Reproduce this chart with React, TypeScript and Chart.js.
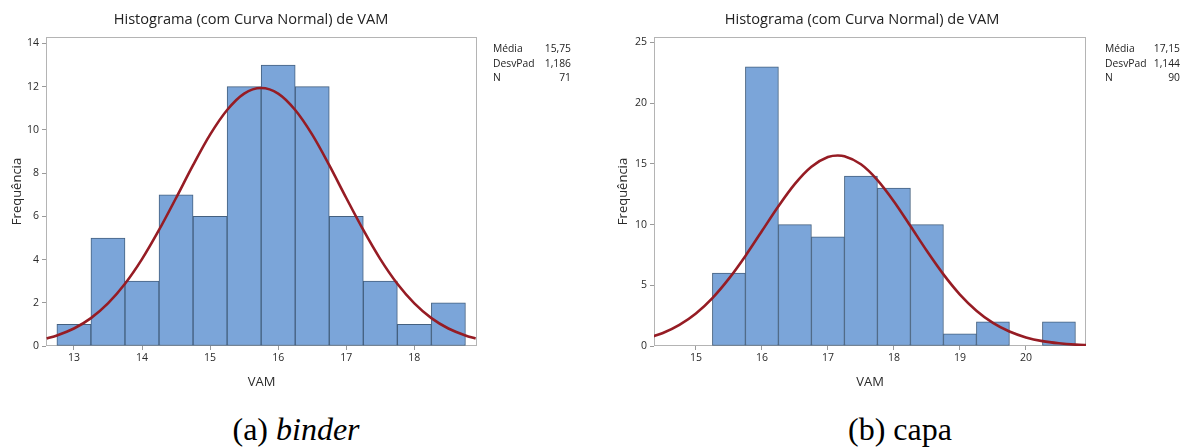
import React, { useEffect, useRef } from "react";
import { Chart, registerables } from "chart.js";
Chart.register(...registerables);

// ---------- data: (a) binder ----------
const binderBinCenters = [13, 13.5, 14, 14.5, 15, 15.5, 16, 16.5, 17, 17.5, 18, 18.5];
const binderCounts = [1, 5, 3, 7, 6, 12, 13, 12, 6, 3, 1, 2];
const binderCurveX = [12.6, 12.75, 13, 13.25, 13.5, 13.75, 14, 14.25, 14.5, 14.75, 15, 15.25, 15.5, 15.75, 16, 16.25, 16.5, 16.75, 17, 17.25, 17.5, 17.75, 18, 18.25, 18.5, 18.75, 18.9];
const binderCurveY = [0.35, 0.49, 0.81, 1.29, 1.97, 2.88, 4.02, 5.37, 6.85, 8.37, 9.78, 10.92, 11.68, 11.94, 11.68, 10.92, 9.78, 8.37, 6.85, 5.37, 4.02, 2.88, 1.97, 1.29, 0.81, 0.49, 0.35];
const binderXTicks = [13, 14, 15, 16, 17, 18];
const binderYTicks = [0, 2, 4, 6, 8, 10, 12, 14];
const binderStats = ["15,75", "1,186", "71"];

// ---------- data: (b) capa ----------
const capaBinCenters = [15.5, 16, 16.5, 17, 17.5, 18, 18.5, 19, 19.5, 20, 20.5];
const capaCounts = [6, 23, 10, 9, 14, 13, 10, 1, 2, 0, 2];
const capaCurveX = [14.35, 14.5, 14.75, 15, 15.25, 15.5, 15.75, 16, 16.25, 16.5, 16.75, 17, 17.15, 17.25, 17.5, 17.75, 18, 18.25, 18.5, 18.75, 19, 19.25, 19.5, 19.75, 20, 20.25, 20.5, 20.75, 20.95];
const capaCurveY = [0.79, 1.07, 1.74, 2.68, 3.95, 5.55, 7.42, 9.47, 11.51, 13.35, 14.76, 15.56, 15.69, 15.63, 14.97, 13.67, 11.91, 9.88, 7.82, 5.9, 4.24, 2.91, 1.9, 1.19, 0.71, 0.4, 0.22, 0.11, 0.06];
const capaXTicks = [15, 16, 17, 18, 19, 20];
const capaYTicks = [0, 5, 10, 15, 20, 25];
const capaStats = ["17,15", "1,144", "90"];

const statLabels = ["Média", "DesvPad", "N"];
const chartTitle = "Histograma (com Curva Normal) de VAM";
const xLabel = "VAM";
const yLabel = "Frequência";

const FONT = "'Open Sans', 'Noto Sans', sans-serif";
const TEXT = "#2a2a2a";

const framePlugin = {
  id: "frame",
  beforeDatasetsDraw(chart: any) {
    const { ctx, chartArea } = chart;
    const { left, top, right, bottom } = chartArea;
    ctx.save();
    ctx.strokeStyle = "#b4b4b4";
    ctx.lineWidth = 1;
    ctx.strokeRect(left + 0.5, top + 0.5, right - left - 1, bottom - top - 1);
    ctx.restore();
  },
};

type HistProps = {
  canvasLeft: number;
  width: number;
  height: number;
  plotLeft: number;
  plotRight: number;
  plotTop: number;
  plotBottom: number;
  xMin: number;
  xMax: number;
  yMax: number;
  centers: number[];
  counts: number[];
  curveX: number[];
  curveY: number[];
  xTicks: number[];
  yTicks: number[];
  yTitlePad: number;
};

function Histogram(p: HistProps) {
  const ref = useRef<HTMLCanvasElement | null>(null);
  useEffect(() => {
    if (!ref.current) return;
    const chart = new Chart(ref.current, {
      type: "bar",
      data: {
        datasets: [
          {
            type: "line",
            data: p.curveX.map((x, i) => ({ x, y: p.curveY[i] })),
            borderColor: "#961c24",
            borderWidth: 2.6,
            pointRadius: 0,
            fill: false,
            cubicInterpolationMode: "monotone",
            order: 0,
          } as any,
          {
            type: "bar",
            data: p.centers.map((x, i) => ({ x, y: p.counts[i] })),
            backgroundColor: "#7ba5d9",
            borderColor: "#44607f",
            borderWidth: 1,
            borderSkipped: false,
            barPercentage: 1,
            categoryPercentage: 1,
            order: 1,
          } as any,
        ],
      },
      options: {
        responsive: false,
        animation: false,
        events: [],
        layout: {
          padding: {
            left: 0,
            top: p.plotTop,
            right: p.width - p.plotRight,
            bottom: 0,
          },
        },
        plugins: {
          legend: { display: false },
          tooltip: { enabled: false },
          title: { display: false },
        },
        scales: {
          x: {
            type: "linear",
            min: p.xMin,
            max: p.xMax,
            offset: false,
            afterBuildTicks: (s: any) => {
              s.ticks = p.xTicks.map((v) => ({ value: v }));
            },
            afterFit: (s: any) => {
              s.height = p.height - p.plotBottom;
            },
            ticks: {
              color: TEXT,
              font: { family: FONT, size: 10.5 },
              padding: 2,
              maxRotation: 0,
              autoSkip: false,
            },
            grid: {
              display: true,
              drawOnChartArea: false,
              drawTicks: true,
              tickLength: 4,
              color: "#9a9a9a",
              offset: false,
            },
            border: { display: false },
            title: {
              display: true,
              text: xLabel,
              color: TEXT,
              font: { family: FONT, size: 13 },
              padding: { top: 0, bottom: 10.2 },
            },
          },
          y: {
            type: "linear",
            min: 0,
            max: p.yMax,
            afterBuildTicks: (s: any) => {
              s.ticks = p.yTicks.map((v) => ({ value: v }));
            },
            afterFit: (s: any) => {
              s.width = p.plotLeft;
            },
            ticks: {
              color: TEXT,
              font: { family: FONT, size: 10.5 },
              padding: 3,
              autoSkip: false,
            },
            grid: {
              display: true,
              drawOnChartArea: false,
              drawTicks: true,
              tickLength: 4,
              color: "#9a9a9a",
            },
            border: { display: false },
            title: {
              display: true,
              text: yLabel,
              color: TEXT,
              font: { family: FONT, size: 13 },
              padding: { top: p.yTitlePad, bottom: 0 },
            },
          },
        },
      } as any,
      plugins: [framePlugin],
    });
    return () => chart.destroy();
  }, []);
  return (
    <canvas
      ref={ref}
      width={p.width}
      height={p.height}
      style={{ position: "absolute", left: p.canvasLeft, top: 0, width: p.width, height: p.height }}
    />
  );
}

function Stats({ left, width, values }: { left: number; width: number; values: string[] }) {
  return (
    <div style={{ position: "absolute", left, top: 41, width, fontFamily: FONT, fontSize: 10.3, color: "#222", lineHeight: "14.5px" }}>
      {statLabels.map((l, i) => (
        <div key={l} style={{ display: "flex", justifyContent: "space-between" }}>
          <span>{l}</span>
          <span>{values[i]}</span>
        </div>
      ))}
    </div>
  );
}

function Title({ center }: { center: number }) {
  return (
    <div style={{ position: "absolute", left: center - 200, top: 8, width: 400, textAlign: "center", fontFamily: FONT, fontSize: 14.6, color: "#222", lineHeight: "20px", whiteSpace: "nowrap" }}>
      {chartTitle}
    </div>
  );
}

function Caption({ center, children }: { center: number; children: React.ReactNode }) {
  return (
    <div style={{ position: "absolute", left: center - 150, top: 411, width: 300, textAlign: "center", fontFamily: "'Liberation Serif', 'Times New Roman', serif", fontSize: 32, color: "#000", lineHeight: "36px" }}>
      {children}
    </div>
  );
}

export default function App() {
  return (
    <div style={{ position: "absolute", left: 0, top: 0, width: 1189, height: 447, background: "#fff", overflow: "hidden" }}>
      <Histogram
        canvasLeft={0}
        width={590}
        height={400}
        plotLeft={46}
        plotRight={477}
        plotTop={37}
        plotBottom={346}
        xMin={12.59}
        xMax={18.92}
        yMax={14.3}
        centers={binderBinCenters}
        counts={binderCounts}
        curveX={binderCurveX}
        curveY={binderCurveY}
        xTicks={binderXTicks}
        yTicks={binderYTicks}
        yTitlePad={9.5}
      />
      <Histogram
        canvasLeft={600}
        width={589}
        height={400}
        plotLeft={54}
        plotRight={486}
        plotTop={37}
        plotBottom={346}
        xMin={14.365}
        xMax={20.91}
        yMax={25.45}
        centers={capaBinCenters}
        counts={capaCounts}
        curveX={capaCurveX}
        curveY={capaCurveY}
        xTicks={capaXTicks}
        yTicks={capaYTicks}
        yTitlePad={15.3}
      />
      <Title center={251} />
      <Title center={862} />
      <Stats left={493} width={78} values={binderStats} />
      <Stats left={1105} width={75} values={capaStats} />
      <Caption center={296}>
        (a) <i>binder</i>
      </Caption>
      <Caption center={900}>(b) capa</Caption>
    </div>
  );
}
